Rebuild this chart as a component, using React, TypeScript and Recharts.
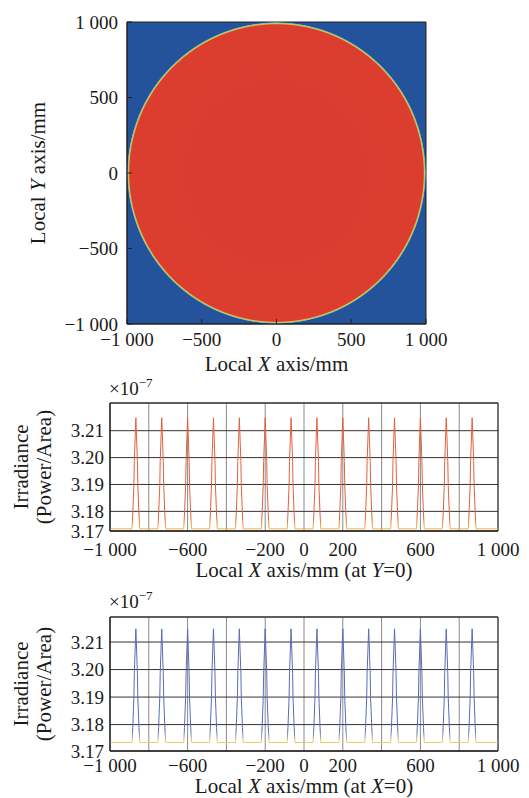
import React from "react";
import {
  ComposedChart,
  LineChart,
  Line,
  XAxis,
  YAxis,
  CartesianGrid,
  ReferenceArea,
} from "recharts";

// ---- top map: local irradiance over the receiver (mm) ----
const mapTicks = [-1000, -500, 0, 500, 1000];
const spotCenter = { x: 0, y: 0 };
const spotRadius = 1000;

// ---- irradiance profiles, units of 1e-7 Power/Area ----
// peak positions read off the cut at Y=0 and the cut at X=0 (same pattern)
const peakCentersY0 = [-866.7, -733.3, -600, -466.7, -333.3, -200, -66.7, 66.7, 200, 333.3, 466.7, 600, 733.3, 866.7];
const peakCentersX0 = [-866.7, -733.3, -600, -466.7, -333.3, -200, -66.7, 66.7, 200, 333.3, 466.7, 600, 733.3, 866.7];
// shape of one spike: offset from the peak centre (mm) and level
const peakOffsets = [-20, -16, -10, -8, 0, 8, 10, 16, 20];
const peakLevels = [3.1735, 3.179, 3.19, 3.1985, 3.2148, 3.1985, 3.19, 3.179, 3.1735];
const baseLevel = 3.1735;

const profileTicks = [-1000, -800, -600, -400, -200, 0, 200, 400, 600, 800, 1000];
const profileTickLabels = ["\u22121 000", "", "\u2212600", "", "\u2212200", "0", "200", "", "600", "", "1 000"];
const irrTicksTop = [3.18, 3.19, 3.2, 3.21];

const FONT = "'Liberation Serif', 'Times New Roman', serif";

function fmtMm(v: number) {
  const a = Math.abs(v);
  const s = a >= 1000 ? `${Math.floor(a / 1000)} ${String(a % 1000).padStart(3, "0")}` : String(a);
  return v < 0 ? "\u2212" + s : s;
}

function buildProfile(centers: number[]) {
  const rows = [{ x: -1000, v: baseLevel }];
  centers.forEach((c) => {
    peakOffsets.forEach((o, i) => rows.push({ x: c + o, v: peakLevels[i] }));
  });
  rows.push({ x: 1000, v: baseLevel });
  return rows;
}

const tickStyle = { fontFamily: FONT, fontSize: 19, fill: "#1a1a1a" };

const SpotShape = (props: any) => {
  const { x, y, width, height } = props;
  return (
    <g>
      <defs>
        <radialGradient id="spotGrad" cx="50%" cy="50%" r="50%">
          <stop offset="0" stopColor="#d93b2f" />
          <stop offset="0.982" stopColor="#db3e2f" />
          <stop offset="0.989" stopColor="#e6c24a" />
          <stop offset="0.995" stopColor="#62c2ae" />
          <stop offset="1" stopColor="#24539c" />
        </radialGradient>
      </defs>
      <ellipse
        cx={x + width / 2}
        cy={y + height / 2}
        rx={width / 2}
        ry={height / 2}
        fill="url(#spotGrad)"
      />
    </g>
  );
};

function MapChart() {
  return (
    <ComposedChart
      width={529}
      height={380}
      data={[spotCenter]}
      margin={{ top: 22, right: 103, bottom: 0, left: 0 }}
    >
      <XAxis
        type="number"
        dataKey="x"
        domain={[-1000, 1000]}
        allowDataOverflow
        ticks={mapTicks}
        interval={0}
        tickFormatter={fmtMm}
        tick={tickStyle}
        tickSize={-5}
        tickMargin={14}
        height={56}
        stroke="#222"
        label={{
          content: ({ viewBox }: any) => (
            <text
              x={viewBox.x + viewBox.width / 2}
              y={viewBox.y + 47}
              textAnchor="middle"
              fontFamily={FONT}
              fontSize={21}
              fill="#1a1a1a"
            >
              Local <tspan fontStyle="italic">X</tspan> axis/mm
            </text>
          ),
        }}
      />
      <YAxis
        type="number"
        dataKey="y"
        domain={[-1000, 1000]}
        allowDataOverflow
        ticks={mapTicks}
        interval={0}
        tickFormatter={fmtMm}
        tick={tickStyle}
        tickSize={-5}
        tickMargin={14}
        width={127}
        stroke="#222"
        label={{
          content: ({ viewBox }: any) => (
            <text
              transform={`translate(45, ${viewBox.y + viewBox.height / 2}) rotate(-90)`}
              textAnchor="middle"
              fontFamily={FONT}
              fontSize={21}
              fill="#1a1a1a"
            >
              Local <tspan fontStyle="italic">Y</tspan> axis/mm
            </text>
          ),
        }}
      />
      <ReferenceArea
        x1={-1000}
        x2={1000}
        y1={-1000}
        y2={1000}
        fill="#24539c"
        fillOpacity={1}
        stroke="#222"
      />
      <ReferenceArea
        x1={spotCenter.x - spotRadius}
        x2={spotCenter.x + spotRadius}
        y1={spotCenter.y - spotRadius}
        y2={spotCenter.y + spotRadius}
        shape={SpotShape}
      />
    </ComposedChart>
  );
}

type ProfileProps = {
  centers: number[];
  cutLabel: string;
  yMin: number;
  yMax: number;
  height: number;
  marginTop: number;
  xAxisHeight: number;
  xTickMargin: number;
  xLabelDy: number;
  expDy: number;
  gradId: string;
  peakColor: string;
  baseColor: string;
};

function ProfileChart(p: ProfileProps) {
  const data = buildProfile(p.centers);
  return (
    <LineChart
      width={529}
      height={p.height}
      data={data}
      margin={{ top: p.marginTop, right: 31, bottom: 0, left: 0 }}
    >
      <defs>
        <linearGradient id={p.gradId} x1="0" y1="0" x2="0" y2="1">
          <stop offset="0" stopColor={p.peakColor} />
          <stop offset="0.9" stopColor={p.peakColor} />
          <stop offset="0.985" stopColor={p.baseColor} />
          <stop offset="1" stopColor={p.baseColor} />
        </linearGradient>
      </defs>
      <CartesianGrid horizontal={false} stroke="#8a8a8a" strokeWidth={1} />
      <CartesianGrid vertical={false} stroke="#3a3030" strokeWidth={1} />
      <XAxis
        type="number"
        dataKey="x"
        domain={[-1000, 1000]}
        allowDataOverflow
        ticks={profileTicks}
        interval={0}
        tickFormatter={(v: number, i: number) => profileTickLabels[i]}
        tick={tickStyle}
        tickLine={false}
        tickSize={0}
        tickMargin={p.xTickMargin}
        height={p.xAxisHeight}
        stroke="#222"
        label={{
          content: ({ viewBox }: any) => (
            <text
              x={viewBox.x + viewBox.width / 2}
              y={viewBox.y + p.xLabelDy}
              textAnchor="middle"
              fontFamily={FONT}
              fontSize={21}
              fill="#1a1a1a"
            >
              Local <tspan fontStyle="italic">X</tspan> axis/mm (at{" "}
              <tspan fontStyle="italic">{p.cutLabel}</tspan>=0)
            </text>
          ),
        }}
      />
      <YAxis
        type="number"
        domain={[p.yMin, p.yMax]}
        allowDataOverflow
        ticks={[p.yMin, ...irrTicksTop]}
        interval={0}
        tickFormatter={(v: number) => v.toFixed(2)}
        tick={tickStyle}
        tickLine={false}
        tickSize={0}
        tickMargin={6}
        width={110}
        stroke="#222"
        label={{
          content: ({ viewBox }: any) => {
            const cy = viewBox.y + viewBox.height / 2;
            return (
              <g fontFamily={FONT} fill="#1a1a1a">
                <text transform={`translate(28, ${cy}) rotate(-90)`} textAnchor="middle" fontSize={21}>
                  Irradiance
                </text>
                <text transform={`translate(51, ${cy}) rotate(-90)`} textAnchor="middle" fontSize={21}>
                  (Power/Area)
                </text>
                <text x={viewBox.x + viewBox.width - 1} y={viewBox.y - p.expDy} fontSize={19}>
                  ×10
                  <tspan dy={-8} fontSize={13}>
                    {"\u22127"}
                  </tspan>
                </text>
              </g>
            );
          },
        }}
      />
      <ReferenceArea x1={-1000} x2={1000} y1={p.yMin} y2={p.yMax} fill="none" stroke="#222" />
      <Line
        type="linear"
        dataKey="v"
        stroke={`url(#${p.gradId})`}
        strokeWidth={1}
        dot={false}
        isAnimationActive={false}
      />
    </LineChart>
  );
}

export default function App() {
  return (
    <div
      style={{
        position: "absolute",
        left: 0,
        top: 0,
        width: 529,
        height: 798,
        background: "#fff",
        overflow: "hidden",
      }}
    >
      <div style={{ position: "absolute", left: 0, top: 0 }}>
        <MapChart />
      </div>
      <div style={{ position: "absolute", left: 0, top: 372 }}>
        <ProfileChart
          centers={peakCentersY0}
          cutLabel="Y"
          yMin={3.1727}
          yMax={3.2203}
          height={218}
          marginTop={31}
          xAxisHeight={59}
          xTickMargin={12}
          xLabelDy={46}
          expDy={8}
          gradId="gradY0"
          peakColor="#e2603f"
          baseColor="#f0b04a"
        />
      </div>
      <div style={{ position: "absolute", left: 0, top: 588 }}>
        <ProfileChart
          centers={peakCentersX0}
          cutLabel="X"
          yMin={3.1704}
          yMax={3.2191}
          height={210}
          marginTop={29}
          xAxisHeight={47}
          xTickMargin={8}
          xLabelDy={42}
          expDy={9}
          gradId="gradX0"
          peakColor="#5a6ab8"
          baseColor="#e6cc6a"
        />
      </div>
    </div>
  );
}
